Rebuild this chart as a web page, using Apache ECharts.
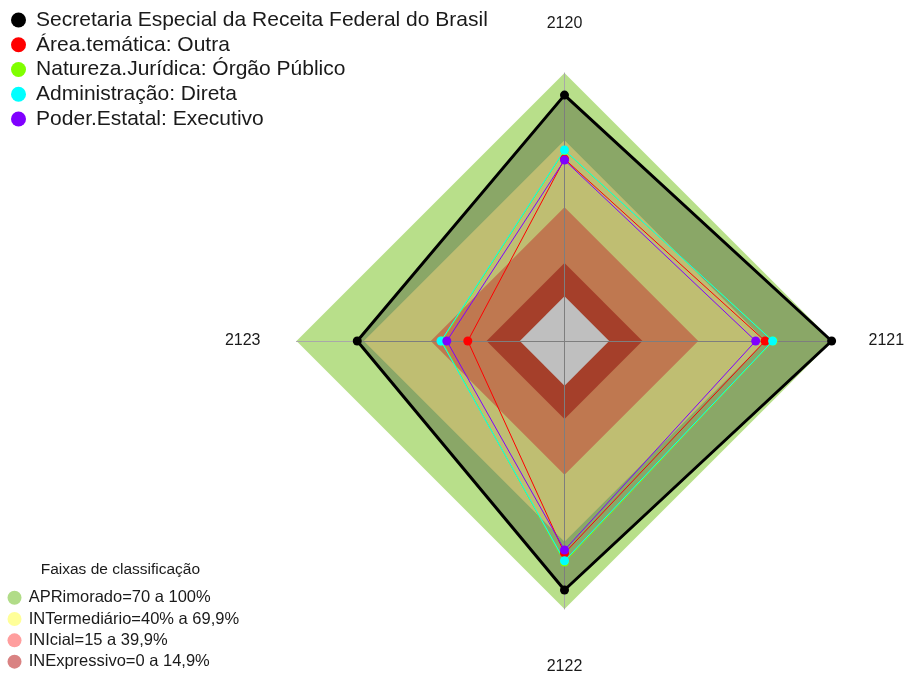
<!DOCTYPE html>
<html>
<head>
<meta charset="utf-8">
<script src="https://cdn.jsdelivr.net/npm/echarts@6/dist/echarts.min.js"></script>
<style>
  body { margin: 0; background: #fff; }
  #chart { width: 905px; height: 675px; }
</style>
</head>
<body>
<div id="chart"></div>
<script>
  // indicators (natural order: top, right, bottom, left)
  const categories = ['2120', '2121', '2122', '2123'];

  const seriesNames = [
    'Secretaria Especial da Receita Federal do Brasil',
    'Área.temática: Outra',
    'Natureza.Jurídica: Órgão Público',
    'Administração: Direta',
    'Poder.Estatal: Executivo'
  ];

  // values in %, same order as categories
  const secretaria = [90.1, 99.6, 91.5, 72.8];
  const areaTematica = [61.5, 69.8, 75.0, 23.3];
  const naturezaJuridica = [65.3, 73.4, 79.0, 35.0];
  const administracao = [65.5, 73.2, 78.4, 35.3];
  const poderEstatal = [61.0, 65.6, 73.6, 32.7];

  // classification bands (upper limit of each band)
  const bandNames = [
    'APRimorado=70 a 100%',
    'INTermediário=40% a 69,9%',
    'INIcial=15 a 39,9%',
    'INExpressivo=0 a 14,9%'
  ];
  const bandLimits = [100, 69.9, 39.9, 14.9];
  const bandFloor = 0;

  // scale: the zero sits off-centre, like fmsb
  const axisMin = -20;
  const axisMax = 100;

  const lineColors = ['#000000', '#ff0000', '#80ff00', '#00ffff', '#8000ff'];
  const bandFill = ['#b8df8a', '#fffe98', '#ffa06b', '#dd5538'];
  const bandLegend = ['#b1dc88', '#ffff99', '#ff9e9e', '#d98282'];
  const font = 'Liberation Sans, Arial, sans-serif';

  // echarts lays indicators counterclockwise from the top
  const order = [0, 3, 2, 1];
  const toRadar = vals => order.map(i => vals[i]);

  const dataSets = [secretaria, areaTematica, naturezaJuridica, administracao, poderEstatal];

  const bandSeries = bandLimits.map((lim, k) => ({
    type: 'radar',
    name: bandNames[k],
    z: 1,
    silent: true,
    symbol: 'none',
    lineStyle: { width: 0, opacity: 0 },
    itemStyle: { color: bandLegend[k] },
    areaStyle: { color: bandFill[k], opacity: 1 },
    data: [{ value: categories.map(() => lim) }]
  }));

  const centerSeries = {
    type: 'radar',
    name: 'centro',
    z: 1,
    silent: true,
    symbol: 'none',
    lineStyle: { width: 0, opacity: 0 },
    areaStyle: { color: '#ffffff', opacity: 1 },
    data: [{ value: categories.map(() => bandFloor) }]
  };

  const lineSeries = dataSets.map((vals, k) => ({
    type: 'radar',
    name: seriesNames[k],
    z: 3,
    symbol: 'circle',
    symbolSize: 9,
    itemStyle: { color: lineColors[k] },
    lineStyle: { color: lineColors[k], width: k === 0 ? 3 : 1 },
    areaStyle: k === 0 ? { color: 'rgba(0,0,0,0.25)', opacity: 1 } : undefined,
    data: [{ value: toRadar(vals), name: seriesNames[k] }]
  }));

  const chart = echarts.init(document.getElementById('chart'));
  chart.setOption({
    animation: false,
    backgroundColor: '#fff',
    title: {
      text: 'Faixas de classificação',
      left: 40.7,
      top: 562,
      padding: 0,
      textStyle: { fontSize: 15.5, lineHeight: 15.5, fontWeight: 'normal', color: '#1a1a1a', fontFamily: font }
    },
    legend: [{
      data: seriesNames,
      orient: 'vertical',
      left: 11,
      top: 9.5,
      padding: 0,
      icon: 'circle',
      itemWidth: 25.2,
      itemHeight: 15,
      itemGap: 3.75,
      selectedMode: false,
      textStyle: { fontSize: 21, lineHeight: 21, color: '#1a1a1a', fontFamily: font }
    }, {
      data: bandNames.map((n, k) => ({ name: n, itemStyle: { color: bandLegend[k] } })),
      orient: 'vertical',
      left: 7.5,
      top: 589.25,
      padding: 0,
      icon: 'circle',
      itemWidth: 18.3,
      itemHeight: 14,
      itemGap: 4.3,
      selectedMode: false,
      textStyle: { fontSize: 16.5, lineHeight: 16.5, color: '#1a1a1a', fontFamily: font }
    }],
    radar: {
      center: [564.5, 341],
      radius: 268,
      startAngle: 90,
      shape: 'polygon',
      nameGap: 36,
      indicator: order.map(i => ({ name: categories[i], min: axisMin, max: axisMax })),
      axisName: {
        color: '#1a1a1a',
        fontSize: 16,
        fontFamily: font,
        formatter: name => name === '2120' ? '{t|' + name + '}' : name === '2122' ? '{b|' + name + '}' : name,
        rich: {
          t: { fontSize: 16, fontFamily: font, color: '#1a1a1a', padding: [0, 0, 5, 0] },
          b: { fontSize: 16, fontFamily: font, color: '#1a1a1a', padding: [14, 0, 0, 0] }
        }
      },
      splitLine: { show: false },
      splitArea: { show: false },
      axisTick: { show: false },
      axisLabel: { show: false },
      axisLine: { lineStyle: { color: '#a9a9a9', width: 1 } },
      z: 2
    },
    series: bandSeries.concat([centerSeries], lineSeries)
  });
</script>
</body>
</html>
